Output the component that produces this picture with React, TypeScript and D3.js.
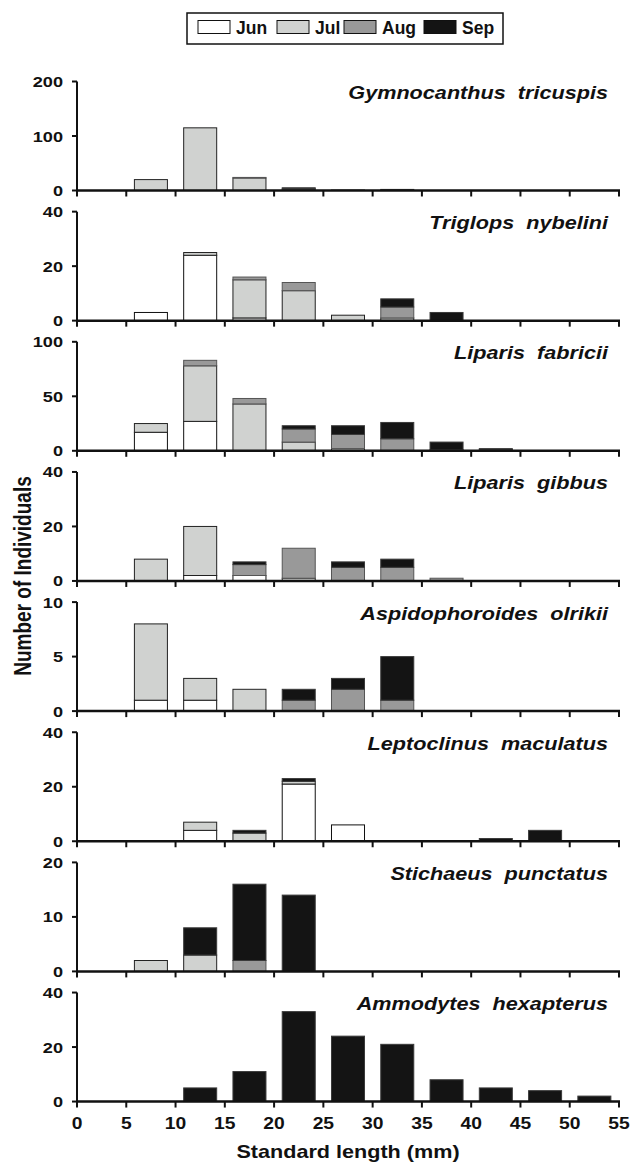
import React from "react";
import * as d3 from "d3";

const W = 632;
const H = 1165;

const months = ["Jun", "Jul", "Aug", "Sep"];
const monthFills = ["#ffffff", "#d0d2d0", "#999999", "#141414"];
const monthStrokes = ["#111111", "#222222", "#555555", "#3a3a3a"];

const bins = ["0-5", "5-10", "10-15", "15-20", "20-25", "25-30", "30-35", "35-40", "40-45", "45-50", "50-55"];
const xTicks = [0, 5, 10, 15, 20, 25, 30, 35, 40, 45, 50, 55];

const species = [
  "Gymnocanthus  tricuspis",
  "Triglops  nybelini",
  "Liparis  fabricii",
  "Liparis  gibbus",
  "Aspidophoroides  olrikii",
  "Leptoclinus  maculatus",
  "Stichaeus  punctatus",
  "Ammodytes  hexapterus",
];
const yMax = [200, 40, 100, 40, 10, 40, 20, 40];

const jun = [
  [0, 0, 0, 0, 0, 0, 0, 0, 0, 0, 0],
  [0, 3, 24, 1, 0, 0, 0, 0, 0, 0, 0],
  [0, 17, 27, 0, 0, 0, 0, 0, 0, 0, 0],
  [0, 0, 2, 2, 0, 0, 0, 0, 0, 0, 0],
  [0, 1, 1, 0, 0, 0, 0, 0, 0, 0, 0],
  [0, 0, 4, 0, 21, 6, 0, 0, 0, 0, 0],
  [0, 0, 0, 0, 0, 0, 0, 0, 0, 0, 0],
  [0, 0, 0, 0, 0, 0, 0, 0, 0, 0, 0],
];
const jul = [
  [0, 20, 115, 23, 1, 0, 0, 0, 0, 0, 0],
  [0, 0, 1, 14, 11, 2, 1, 0, 0, 0, 0],
  [0, 8, 51, 43, 8, 2, 0, 0, 0, 0, 0],
  [0, 8, 18, 0, 1, 0, 0, 0, 0, 0, 0],
  [0, 7, 2, 2, 0, 0, 0, 0, 0, 0, 0],
  [0, 0, 3, 3, 1, 0, 0, 0, 0, 0, 0],
  [0, 2, 3, 0, 0, 0, 0, 0, 0, 0, 0],
  [0, 0, 0, 0, 0, 0, 0, 0, 0, 0, 0],
];
const aug = [
  [0, 0, 0, 1, 2, 1, 0, 0, 0, 0, 0],
  [0, 0, 0, 1, 3, 0, 4, 0, 0, 0, 0],
  [0, 0, 5, 5, 12, 13, 11, 1, 1, 0, 0],
  [0, 0, 0, 4, 11, 5, 5, 1, 0, 0, 0],
  [0, 0, 0, 0, 1, 2, 1, 0, 0, 0, 0],
  [0, 0, 0, 0, 0, 0, 0, 0, 0, 0, 0],
  [0, 0, 0, 2, 0, 0, 0, 0, 0, 0, 0],
  [0, 0, 0, 0, 0, 0, 0, 0, 0, 0, 0],
];
const sep = [
  [0, 0, 0, 0, 2, 0, 2, 0, 0, 0, 0],
  [0, 0, 0, 0, 0, 0, 3, 3, 0, 0, 0],
  [0, 0, 0, 0, 3, 8, 15, 7, 1, 0, 0],
  [0, 0, 0, 1, 0, 2, 3, 0, 0, 0, 0],
  [0, 0, 0, 0, 1, 1, 4, 0, 0, 0, 0],
  [0, 0, 0, 1, 1, 0, 0, 0, 1, 4, 0],
  [0, 0, 5, 14, 14, 0, 0, 0, 0, 0, 0],
  [0, 0, 5, 11, 33, 24, 21, 8, 5, 4, 2],
];

const FONT = "'Liberation Sans', Arial, Helvetica, sans-serif";
const SX = 1.17;

const x0 = 77;
const x1 = 619;
const panelTop0 = 81.5;
const panelStep = 130.15;
const panelH = 109;

export default function App() {
  const x = d3.scaleLinear().domain([0, 55]).range([x0, x1]);
  const band = d3.scaleBand<string>().domain(bins).range([x(0), x(55)]).paddingInner(0.33).paddingOuter(0.165);
  const series = [jun, jul, aug, sep];

  const panels = species.map((name, si) => {
    const top = panelTop0 + si * panelStep;
    const y = d3.scaleLinear().domain([0, yMax[si]]).range([top + panelH, top]);
    const rows = bins.map((b, bi) => {
      const r: any = { bin: b };
      months.forEach((m, mi) => (r[m] = series[mi][si][bi]));
      return r;
    });
    const stacked = d3.stack().keys(months)(rows);
    const yTicks = [0, yMax[si] / 2, yMax[si]];
    const isLast = si === species.length - 1;
    return (
      <g key={name}>
        {stacked.map((layer, mi) =>
          layer.map((d, bi) => {
            const v = d[1] - d[0];
            if (v <= 0) return null;
            return (
              <rect
                key={mi + "-" + bi}
                x={band(bins[bi])}
                width={band.bandwidth()}
                y={y(d[1])}
                height={y(d[0]) - y(d[1])}
                fill={monthFills[mi]}
                stroke={monthStrokes[mi]}
                strokeWidth={1}
              />
            );
          })
        )}
        <line x1={x0} x2={x0} y1={y(yMax[si])} y2={y(0)} stroke="#111" strokeWidth={2} />
        {yTicks.map((t) => (
          <g key={t}>
            <line x1={x0 - 5} x2={x0} y1={y(t)} y2={y(t)} stroke="#111" strokeWidth={2} />
            <text
              transform={`translate(${x0 - 14},${y(t) + 5.5}) scale(${SX},1)`}
              textAnchor="end"
              fontFamily={FONT}
              fontWeight="bold"
              fontSize={15.5}
              fill="#111"
            >
              {t}
            </text>
          </g>
        ))}
        <line x1={x0 - 1} x2={x1 + 1} y1={y(0)} y2={y(0)} stroke="#111" strokeWidth={2.5} />
        {xTicks.map((t) => (
          <line key={t} x1={x(t)} x2={x(t)} y1={y(0)} y2={y(0) + 6} stroke="#111" strokeWidth={2} />
        ))}
        {isLast &&
          xTicks.map((t) => (
            <text
              key={"l" + t}
              transform={`translate(${x(t)},${y(0) + 27}) scale(${SX},1)`}
              textAnchor="middle"
              fontFamily={FONT}
              fontWeight="bold"
              fontSize={16.5}
              fill="#111"
            >
              {t}
            </text>
          ))}
        <text
          transform={`translate(${x1 - 11},${top + 17.5}) scale(${SX},1)`}
          textAnchor="end"
          fontFamily={FONT}
          fontWeight="bold"
          fontStyle="italic"
          fontSize={18.5}
          fill="#111"
          style={{ whiteSpace: "pre" }}
          xmlSpace="preserve"
        >
          {name}
        </text>
      </g>
    );
  });

  const legX = 187;
  const legY = 13;
  const swX = [198, 277, 344, 424];

  return (
    <svg
      width={W}
      height={H}
      viewBox={`0 0 ${W} ${H}`}
      style={{ position: "absolute", left: 0, top: 0, background: "#fff" }}
    >
      <rect x={0} y={0} width={W} height={H} fill="#fff" />
      <rect x={legX} y={legY} width={316} height={31} fill="#fff" stroke="#111" strokeWidth={1.5} />
      {months.map((m, i) => (
        <g key={m}>
          <rect x={swX[i]} y={20.5} width={32} height={13} fill={monthFills[i]} stroke="#111" strokeWidth={1} />
          <text x={swX[i] + 38} y={33.5} fontFamily={FONT} fontWeight="bold" fontSize={17.5} fill="#111">
            {m}
          </text>
        </g>
      ))}
      {panels}
      <text
        transform={`translate(${(x0 + x1) / 2},1158) scale(1.2,1)`}
        textAnchor="middle"
        fontFamily={FONT}
        fontWeight="bold"
        fontSize={18}
        fill="#111"
      >
        Standard length (mm)
      </text>
      <text
        transform={`translate(31,576) rotate(-90) scale(1,1.25)`}
        textAnchor="middle"
        fontFamily={FONT}
        fontWeight="bold"
        fontSize={19}
        fill="#111"
      >
        Number of Individuals
      </text>
    </svg>
  );
}
